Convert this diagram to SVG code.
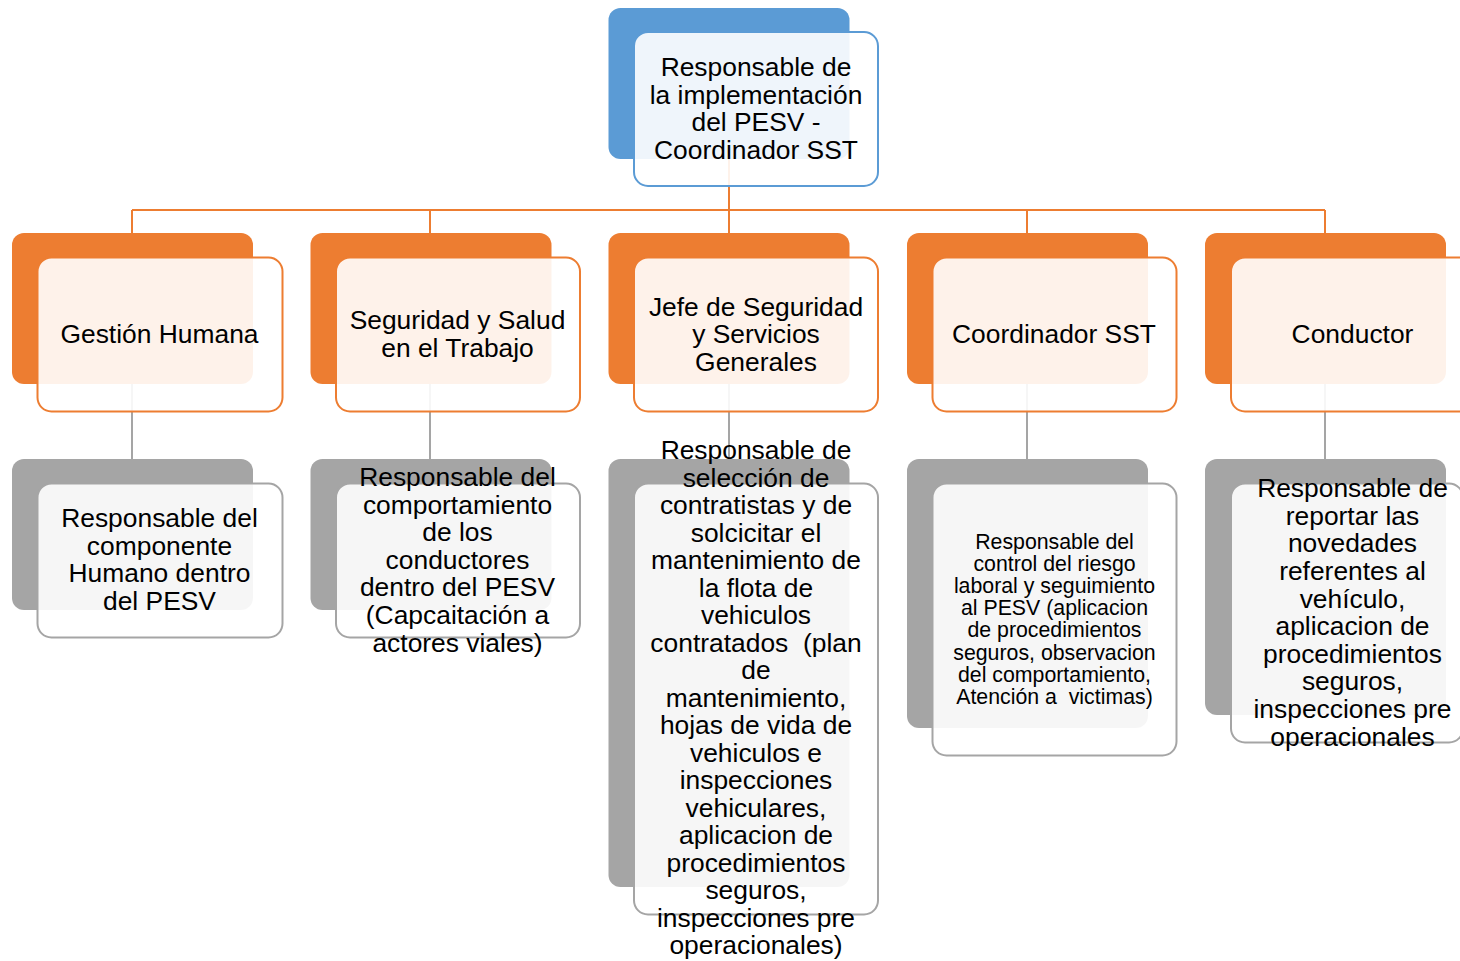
<svg xmlns="http://www.w3.org/2000/svg" width="1460" height="961" viewBox="0 0 1460 961">
<style>
.t{font-family:"Liberation Sans",Arial,sans-serif;font-size:26.4px;fill:#000;text-anchor:middle}
.s{font-size:21.3px}
.bb{fill:#5B9BD5}
.bo{fill:#ED7D31}
.bg{fill:#A5A5A5}
.f{fill:#FFFFFF;fill-opacity:0.9;stroke-width:2}
.fb{stroke:#5B9BD5}
.fo{stroke:#ED7D31}
.fg{stroke:#A5A5A5}
.co{stroke:#ED7D31;stroke-width:2;fill:none}
.cg{stroke:#A5A5A5;stroke-width:2;fill:none}
</style>
<rect width="1460" height="961" fill="#FFFFFF"/>
<g id="connectors">
<path class="co" d="M729 158V233M132 210H1325M132 210V233M430 210V233M1027 210V233M1325 210V233"/>
<path class="cg" d="M132 384V459M430 384V459M729 384V459M1027 384V459M1325 384V459"/>
</g>
<g id="n0">
<rect class="bb" x="608.5" y="8" width="241" height="151" rx="12"/>
<rect class="f fb" x="634" y="32" width="244" height="154" rx="14"/>
<text class="t" x="756" y="76">Responsable de</text>
<text class="t" x="756" y="104">la implementación</text>
<text class="t" x="756" y="131">del PESV -</text>
<text class="t" x="756" y="159">Coordinador SST</text>
</g>
<g id="n1">
<rect class="bo" x="12" y="233" width="241" height="151" rx="12"/>
<rect class="f fo" x="37.5" y="257.5" width="245" height="154" rx="14"/>
<text class="t" x="159.5" y="343">Gestión Humana</text>
</g>
<g id="n2">
<rect class="bo" x="310.5" y="233" width="241" height="151" rx="12"/>
<rect class="f fo" x="336" y="257.5" width="244" height="154" rx="14"/>
<text class="t" x="457.5" y="329">Seguridad y Salud</text>
<text class="t" x="457.5" y="357">en el Trabajo</text>
</g>
<g id="n3">
<rect class="bo" x="608.5" y="233" width="241" height="151" rx="12"/>
<rect class="f fo" x="634" y="257.5" width="244" height="154" rx="14"/>
<text class="t" x="756" y="316">Jefe de Seguridad</text>
<text class="t" x="756" y="343">y Servicios</text>
<text class="t" x="756" y="371">Generales</text>
</g>
<g id="n4">
<rect class="bo" x="907" y="233" width="241" height="151" rx="12"/>
<rect class="f fo" x="932.5" y="257.5" width="244" height="154" rx="14"/>
<text class="t" x="1054" y="343">Coordinador SST</text>
</g>
<g id="n5">
<rect class="bo" x="1205" y="233" width="241" height="151" rx="12"/>
<rect class="f fo" x="1231" y="257.5" width="245" height="154" rx="14"/>
<text class="t" x="1352.5" y="343">Conductor</text>
</g>
<g id="n6">
<rect class="bg" x="12" y="459" width="241" height="151" rx="12"/>
<rect class="f fg" x="37.5" y="483.5" width="245" height="154" rx="14"/>
<text class="t" x="159.5" y="527">Responsable del</text>
<text class="t" x="159.5" y="555">componente</text>
<text class="t" x="159.5" y="582">Humano dentro</text>
<text class="t" x="159.5" y="610">del PESV</text>
</g>
<g id="n7">
<rect class="bg" x="310.5" y="459" width="241" height="151" rx="12"/>
<rect class="f fg" x="336" y="483.5" width="244" height="154" rx="14"/>
<text class="t" x="457.5" y="486">Responsable del</text>
<text class="t" x="457.5" y="514">comportamiento</text>
<text class="t" x="457.5" y="541">de los</text>
<text class="t" x="457.5" y="569">conductores</text>
<text class="t" x="457.5" y="596">dentro del PESV</text>
<text class="t" x="457.5" y="624">(Capcaitación a</text>
<text class="t" x="457.5" y="652">actores viales)</text>
</g>
<g id="n8">
<rect class="bg" x="608.5" y="459" width="241" height="428" rx="12"/>
<rect class="f fg" x="634" y="483.5" width="244" height="431" rx="14"/>
<text class="t" x="756" y="459">Responsable de</text>
<text class="t" x="756" y="486.5">selección de</text>
<text class="t" x="756" y="514">contratistas y de</text>
<text class="t" x="756" y="541.5">solcicitar el</text>
<text class="t" x="756" y="569">mantenimiento de</text>
<text class="t" x="756" y="596.5">la flota de</text>
<text class="t" x="756" y="624">vehiculos</text>
<text class="t" x="756" y="651.5" xml:space="preserve">contratados  (plan</text>
<text class="t" x="756" y="679">de</text>
<text class="t" x="756" y="706.5">mantenimiento,</text>
<text class="t" x="756" y="734">hojas de vida de</text>
<text class="t" x="756" y="761.5">vehiculos e</text>
<text class="t" x="756" y="789">inspecciones</text>
<text class="t" x="756" y="816.5">vehiculares,</text>
<text class="t" x="756" y="844">aplicacion de</text>
<text class="t" x="756" y="871.5">procedimientos</text>
<text class="t" x="756" y="899">seguros,</text>
<text class="t" x="756" y="926.5">inspecciones pre</text>
<text class="t" x="756" y="954">operacionales)</text>
</g>
<g id="n9">
<rect class="bg" x="907" y="459" width="241" height="269" rx="12"/>
<rect class="f fg" x="932.5" y="483.5" width="244" height="272" rx="14"/>
<text class="t s" x="1054.5" y="548.5">Responsable del</text>
<text class="t s" x="1054.5" y="570.5">control del riesgo</text>
<text class="t s" x="1054.5" y="593">laboral y seguimiento</text>
<text class="t s" x="1054.5" y="615">al PESV (aplicacion</text>
<text class="t s" x="1054.5" y="637">de procedimientos</text>
<text class="t s" x="1054.5" y="659.5">seguros, observacion</text>
<text class="t s" x="1054.5" y="681.5">del comportamiento,</text>
<text class="t s" x="1054.5" y="704" xml:space="preserve">Atención a  victimas)</text>
</g>
<g id="n10">
<rect class="bg" x="1205" y="459" width="241" height="256" rx="12"/>
<rect class="f fg" x="1231" y="483.5" width="232" height="259" rx="14"/>
<text class="t" x="1352.5" y="497">Responsable de</text>
<text class="t" x="1352.5" y="525">reportar las</text>
<text class="t" x="1352.5" y="552">novedades</text>
<text class="t" x="1352.5" y="580">referentes al</text>
<text class="t" x="1352.5" y="607.5">vehículo,</text>
<text class="t" x="1352.5" y="635">aplicacion de</text>
<text class="t" x="1352.5" y="662.5">procedimientos</text>
<text class="t" x="1352.5" y="690">seguros,</text>
<text class="t" x="1352.5" y="718">inspecciones pre</text>
<text class="t" x="1352.5" y="746">operacionales</text>
</g>
</svg>
